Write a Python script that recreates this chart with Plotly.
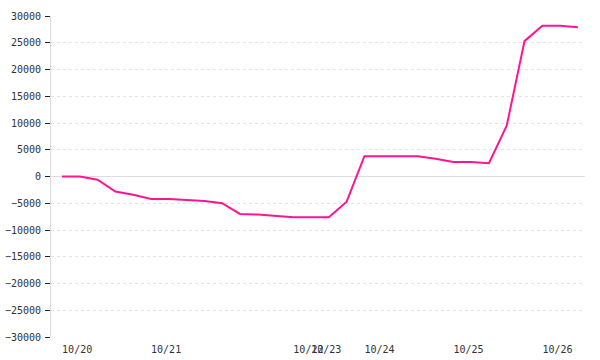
import plotly.graph_objects as go

# series values (one point per sample)
values = [0, 0, -600, -2800, -3400, -4200, -4200, -4400, -4600, -5000,
          -7000, -7100, -7400, -7600, -7600, -7600, -4700, 3800, 3800, 3800,
          3800, 3300, 2700, 2700, 2500, 9500, 25300, 28200, 28200, 27900]
x_idx = list(range(len(values)))

# date labels and the sample index where each one starts
tick_labels = ["10/20", "10/21", "10/22", "10/23", "10/24", "10/25", "10/26"]
tick_index = [0, 5, 13, 14, 17, 22, 27]

y_ticks = list(range(-30000, 30001, 5000))

label_shift = 0.85  # labels are drawn starting at their sample, not centred on it

fig = go.Figure()
fig.add_trace(go.Scatter(
    x=x_idx, y=values, mode="lines",
    line=dict(color="#ff1493", width=2),
    hoverinfo="skip",
))

font = dict(family="DejaVu Sans Mono", size=10, color="#333")

fig.update_layout(
    width=600, height=360,
    margin=dict(l=51, r=15, t=16, b=23),
    paper_bgcolor="white", plot_bgcolor="white",
    showlegend=False,
    font=font,
)
fig.update_xaxes(
    range=[-0.62, 29.4],
    tickmode="array",
    tickvals=[i + label_shift for i in tick_index],
    ticktext=tick_labels,
    tickangle=0,
    showgrid=False, zeroline=False, showline=False,
    ticks="", tickfont=font,
    ticklabelstandoff=5,
    automargin=False,
)
fig.update_yaxes(
    range=[-30000, 30000],
    tickmode="array",
    tickvals=y_ticks,
    ticktext=[str(v).replace("-", "\u2212") for v in y_ticks],
    showgrid=True, gridcolor="#e3e3e3", griddash="dot", gridwidth=1,
    zeroline=True, zerolinecolor="#dddddd", zerolinewidth=1,
    showline=True, linecolor="#dddddd", linewidth=1,
    ticks="outside", ticklen=5, tickcolor="#222", tickwidth=1,
    tickfont=font,
    ticklabelstandoff=2,
    automargin=False,
)

fig.write_html("out.html")
